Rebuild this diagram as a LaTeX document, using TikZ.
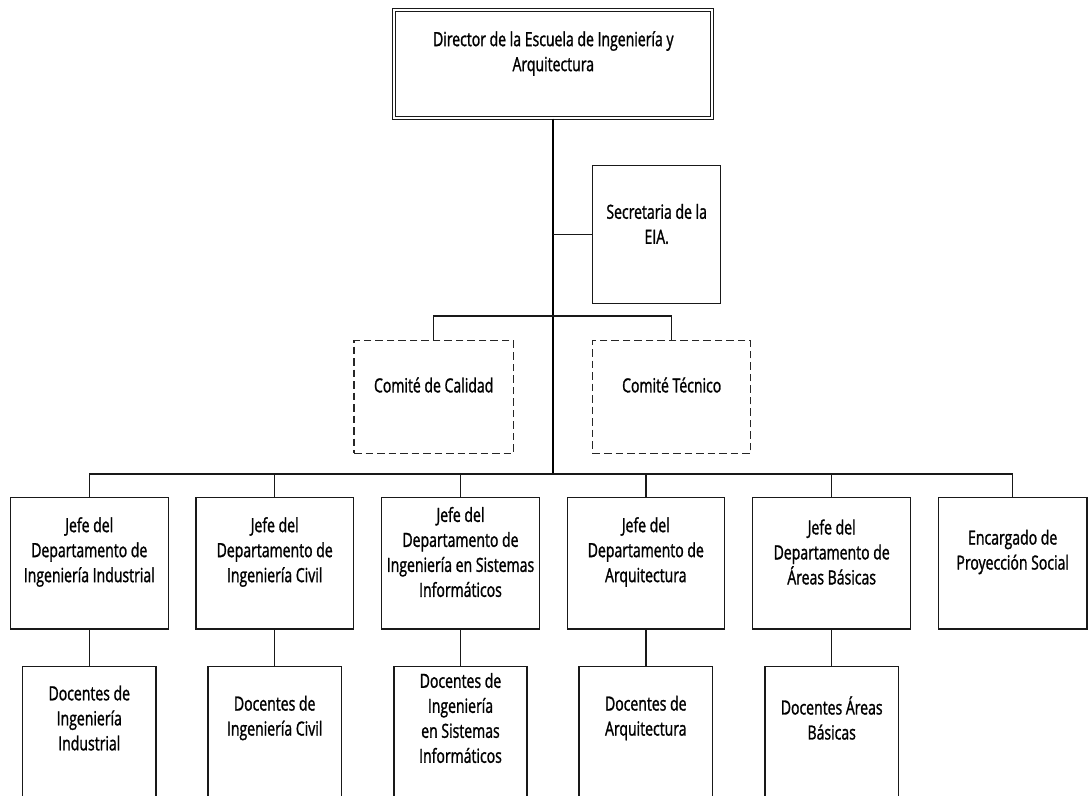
\documentclass[tikz,border=0pt]{standalone}
\usepackage{fontspec}
\setmainfont{Open Sans}[FakeStretch=0.72,FakeBold=1.3]
\begin{document}
\begin{tikzpicture}[x=1pt,y=-1pt,
  lbl/.style={align=center,inner sep=0pt,font=\fontsize{19.5}{25}\selectfont,text=black},
  orgbox/.style={draw=black!90,line width=1.4pt,rectangle,inner sep=0pt},
  headbox/.style={draw=black!90,line width=1pt,double,double distance=2.2pt,rectangle,inner sep=0pt},
  comitebox/.style={draw=black!85,line width=1.3pt,dash pattern=on 7.5pt off 4pt,rectangle,inner sep=0pt},
  link/.style={draw=black!90,line width=1.4pt},
  mainline/.style={draw=black,line width=2.2pt}]
\useasboundingbox (0,0) rectangle (1089,795);

% Director
\node[headbox,minimum width=318pt,minimum height=108pt] (dir) at (553.3,64.2) {};
\node[lbl] (dirt) at (553.3,53.5) {Director de la Escuela de Ingeniería y\\Arquitectura};

% Secretaria
\node[orgbox,minimum width=128pt,minimum height=137.6pt] (sec) at (656.7,234.5) {};
\node[lbl] (sect) at (656.7,224) {Secretaria de la\\EIA.};

% Comites
\node[comitebox,minimum width=159.3pt,minimum height=112.6pt] (cal) at (433.7,397) {};
\node[lbl] (calt) at (433.7,385) {Comité de Calidad};
\node[comitebox,minimum width=158pt,minimum height=112.6pt] (tec) at (671.7,397) {};
\node[lbl] (tect) at (671.7,385) {Comité Técnico};

% Jefes de departamento
\node[orgbox,minimum width=158pt,minimum height=131.3pt] (j1) at (89.3,563.4) {};
\node[orgbox,minimum width=157.3pt,minimum height=131.3pt] (j2) at (274.7,563.4) {};
\node[orgbox,minimum width=157.6pt,minimum height=131.3pt] (j3) at (460.5,563.4) {};
\node[orgbox,minimum width=157pt,minimum height=131.3pt] (j4) at (645.8,563.4) {};
\node[orgbox,minimum width=158pt,minimum height=131.3pt] (j5) at (831.7,563.4) {};
\node[orgbox,minimum width=148.7pt,minimum height=131.3pt] (j6) at (1012.7,563.4) {};
\node[lbl] (j1t) at (89.3,552) {Jefe del\\Departamento de\\Ingeniería Industrial};
\node[lbl] (j2t) at (274.7,552) {Jefe del\\Departamento de\\Ingeniería Civil};
\node[lbl] (j3t) at (460.5,552) {Jefe del\\Departamento de\\Ingeniería en Sistemas\\Informáticos};
\node[lbl] (j4t) at (645.8,552) {Jefe del\\Departamento de\\Arquitectura};
\node[lbl] (j5t) at (831.7,552) {Jefe del\\Departamento de\\Áreas Básicas};
\node[lbl] (j6t) at (1012.7,552) {Encargado de\\Proyección Social};

% Docentes
\node[orgbox,minimum width=133.3pt,minimum height=133.3pt] (d1) at (89.3,733.3) {};
\node[orgbox,minimum width=133.3pt,minimum height=133.3pt] (d2) at (274.7,733.3) {};
\node[orgbox,minimum width=133.3pt,minimum height=133.3pt] (d3) at (460.5,733.3) {};
\node[orgbox,minimum width=133.3pt,minimum height=133.3pt] (d4) at (645.8,733.3) {};
\node[orgbox,minimum width=133.3pt,minimum height=133.3pt] (d5) at (831.7,733.3) {};
\node[lbl] (d1t) at (89.3,718) {Docentes de\\Ingeniería\\Industrial};
\node[lbl] (d2t) at (274.7,718) {Docentes de\\Ingeniería Civil};
\node[lbl] (d3t) at (460.5,718) {Docentes de\\Ingeniería\\en Sistemas\\Informáticos};
\node[lbl] (d4t) at (645.8,718) {Docentes de\\Arquitectura};
\node[lbl] (d5t) at (831.7,718) {Docentes Áreas\\Básicas};

% Connectors
\coordinate (bus) at (0,474);
\coordinate (cbar) at (0,316);
\draw[mainline] (dir.south) -- (dir.south |- bus);
\draw[link] (sec.west) -- (sec.west -| dir.south);
\draw[link] (cal.north) -- (cal.north |- cbar) -- (tec.north |- cbar) -- (tec.north);
\draw[link] (j1.north) -- (j1.north |- bus) -- (j6.north |- bus) -- (j6.north);
\foreach \j in {j2,j3,j4,j5} \draw[link] (\j.north) -- (\j.north |- bus);
\foreach \k in {1,...,5} \draw[link] (j\k.south) -- (d\k.north);
\end{tikzpicture}
\end{document}
